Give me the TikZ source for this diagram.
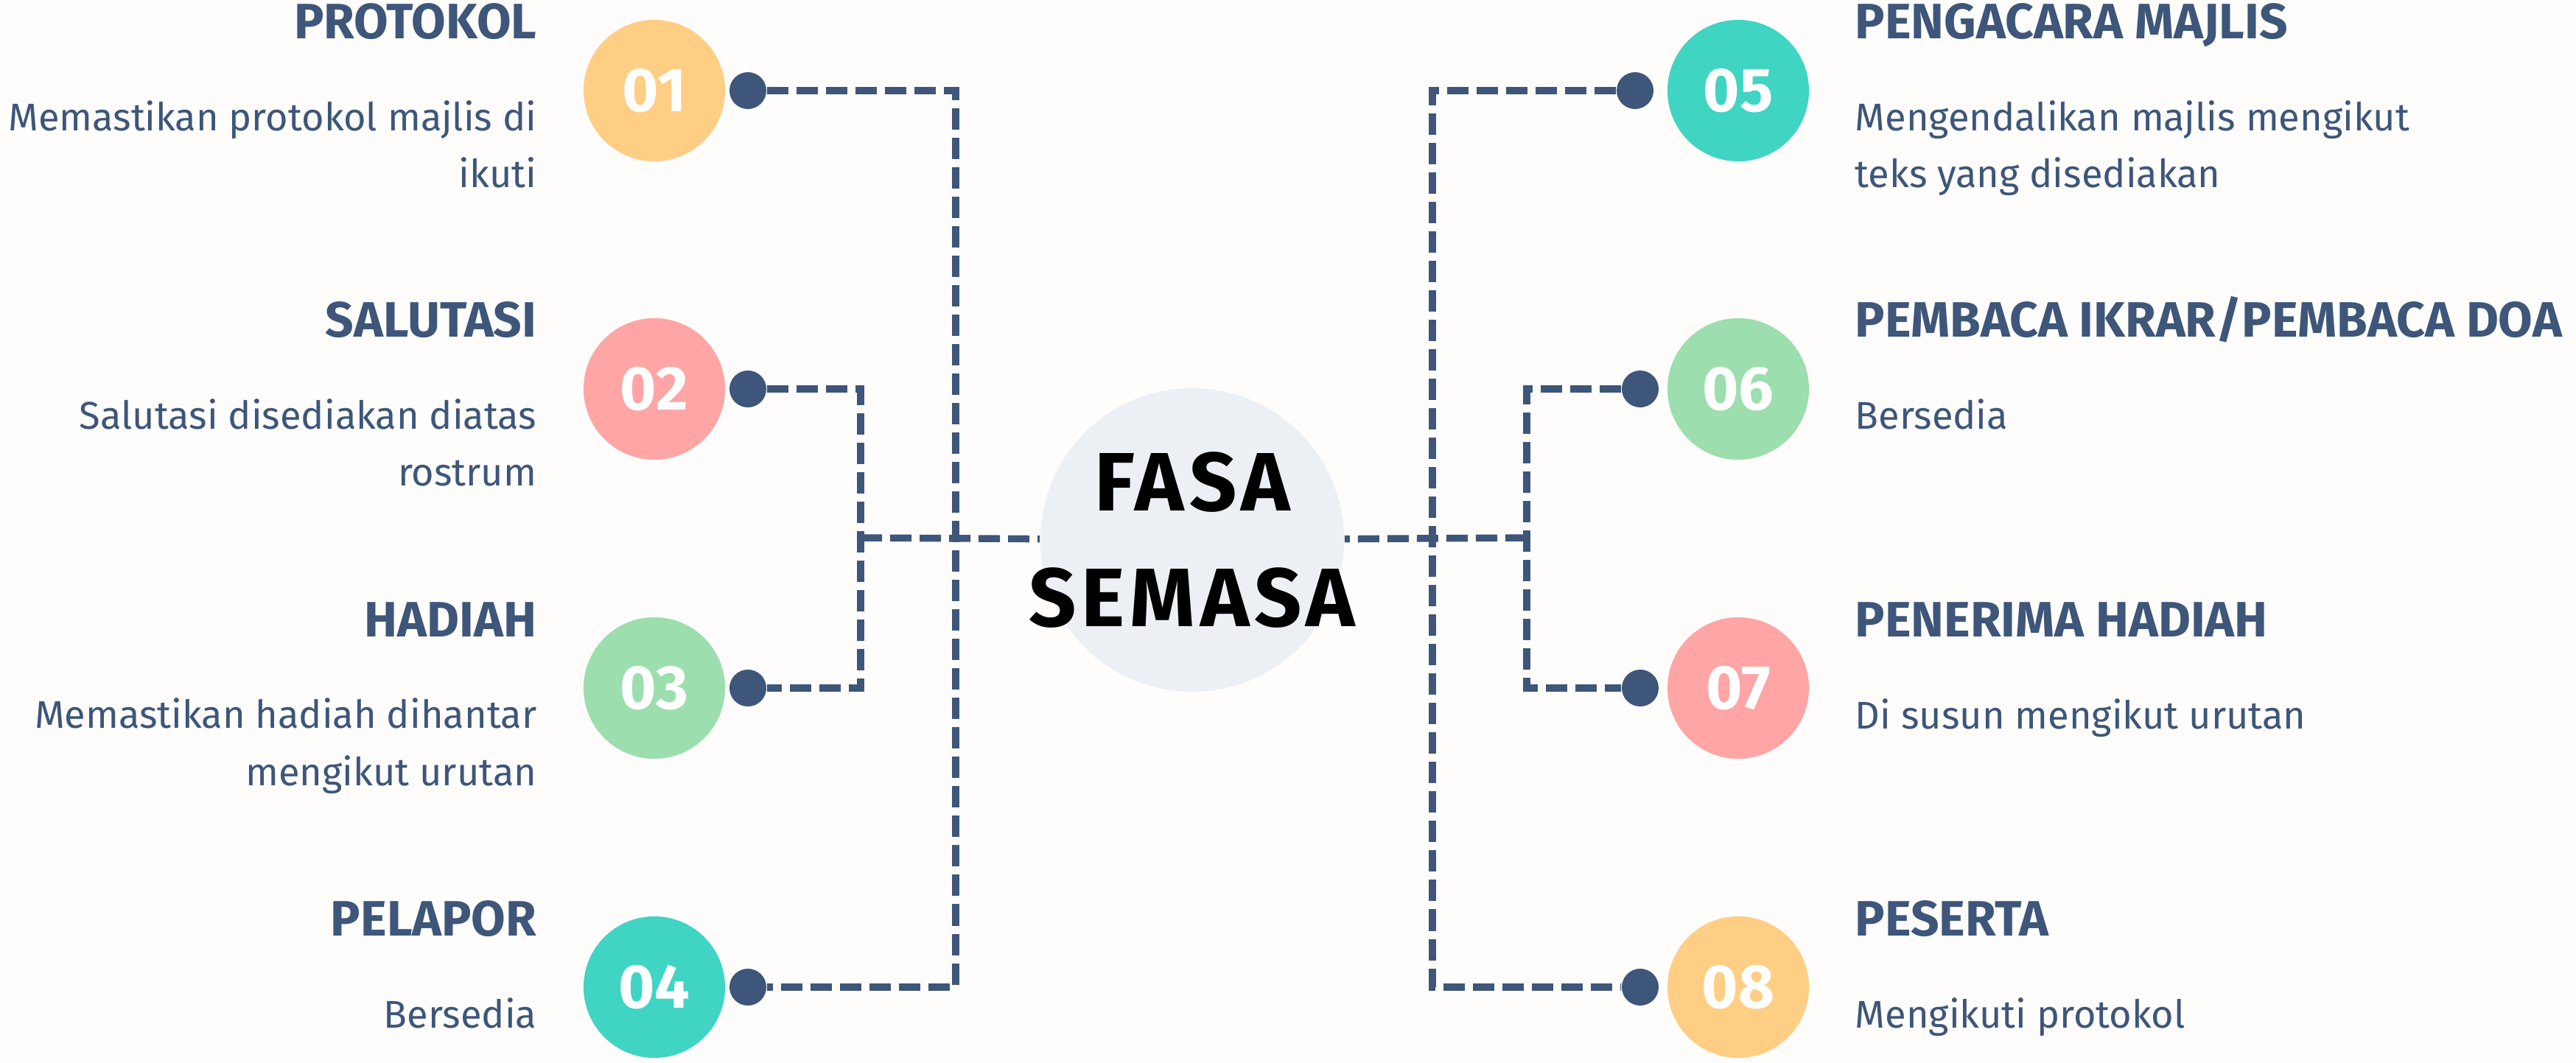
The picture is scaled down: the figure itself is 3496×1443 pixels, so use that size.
\documentclass[tikz,border=0pt]{standalone}
\usepackage{fontspec}
\setmainfont{Fira Sans}
\newfontfamily\phasefont[LetterSpace=6]{Fira Sans}
\usetikzlibrary{positioning,backgrounds}
\definecolor{inkblue}{HTML}{3D5679}
\definecolor{sunyellow}{HTML}{FFCE85}
\definecolor{softpink}{HTML}{FFA5A5}
\definecolor{mintgreen}{HTML}{9CDEAE}
\definecolor{seateal}{HTML}{40D4C3}
\definecolor{mistgrey}{HTML}{ECF0F4}
\definecolor{paper}{HTML}{FEFDFC}

\begin{document}
\begin{tikzpicture}[x=0.01cm, y=-0.01cm,
  numcirc/.style={circle, minimum size=1.92cm, inner sep=0pt, text=white,
    font=\fontsize{24}{28}\selectfont\bfseries},
  linkdot/.style={circle, fill=inkblue, minimum size=0.5cm, inner sep=0pt},
  headtext/.style={inner sep=0pt, text=inkblue,
    font=\fontsize{19.2}{22}\selectfont\bfseries},
  desctext/.style={inner sep=0pt, text=inkblue,
    font=\fontsize{14.9}{21.9}\selectfont},
  link/.style={draw=inkblue, line width=0.095cm, dash pattern=on 0.29cm off 0.11cm}]
\useasboundingbox (0,0) rectangle (3496,1443);

% spine points
\coordinate (lout) at (1297,730);
\coordinate (lin) at (1168,730);
\coordinate (rout) at (1944,730);
\coordinate (rin) at (2072,730);

% link dots
\node[linkdot] (d1) at (1015,123) {};
\node[linkdot] (d2) at (1015,528) {};
\node[linkdot] (d3) at (1015,934) {};
\node[linkdot] (d4) at (1015,1340) {};
\node[linkdot] (d5) at (2219,123) {};
\node[linkdot] (d6) at (2226,528) {};
\node[linkdot] (d7) at (2226,934) {};
\node[linkdot] (d8) at (2226,1340) {};

% centre
\node[circle, fill=mistgrey, minimum size=4.12cm, inner sep=0pt] (phase) at (1618,733) {};
\node[align=center, inner sep=0pt,
      font=\fontsize{32}{44.7}\selectfont\bfseries\phasefont] (phaselbl) at (phase.center)
      {FASA\\SEMASA};

% number circles
\node[numcirc, fill=sunyellow] (c1) at (888,123) {01};
\node[numcirc, fill=softpink] (c2) at (888,528) {02};
\node[numcirc, fill=mintgreen] (c3) at (888,934) {03};
\node[numcirc, fill=seateal] (c4) at (888,1340) {04};
\node[numcirc, fill=seateal] (c5) at (2359,123) {05};
\node[numcirc, fill=mintgreen] (c6) at (2359,528) {06};
\node[numcirc, fill=softpink] (c7) at (2359,934) {07};
\node[numcirc, fill=sunyellow] (c8) at (2359,1340) {08};

% left texts
\node[headtext, anchor=base east] (h1) at (729,53) {PROTOKOL};
\node[desctext, anchor=base east, align=right] (t1) at (729,255)
  {Memastikan protokol majlis di\\ikuti};
\node[headtext, anchor=base east] (h2) at (729,458) {SALUTASI};
\node[desctext, anchor=base east, align=right] (t2) at (729,660)
  {Salutasi disediakan diatas\\rostrum};
\node[headtext, anchor=base east] (h3) at (729,864) {HADIAH};
\node[desctext, anchor=base east, align=right] (t3) at (729,1066)
  {Memastikan hadiah dihantar\\mengikut urutan};
\node[headtext, anchor=base east] (h4) at (729,1270) {PELAPOR};
\node[desctext, anchor=base east] (t4) at (729,1395) {Bersedia};

% right texts
\node[headtext, anchor=base west] (h5) at (2517,53) {PENGACARA MAJLIS};
\node[desctext, anchor=base west, align=left] (t5) at (2517,255)
  {Mengendalikan majlis mengikut\\teks yang disediakan};
\node[headtext, anchor=base west] (h6) at (2517,458) {PEMBACA IKRAR/PEMBACA DOA};
\node[desctext, anchor=base west] (t6) at (2517,583) {Bersedia};
\node[headtext, anchor=base west] (h7) at (2517,864) {PENERIMA HADIAH};
\node[desctext, anchor=base west] (t7) at (2517,989) {Di susun mengikut urutan};
\node[headtext, anchor=base west] (h8) at (2517,1270) {PESERTA};
\node[desctext, anchor=base west] (t8) at (2517,1395) {Mengikuti protokol};

% connectors, behind everything
\begin{scope}[on background layer]
\fill[paper] (0,0) rectangle (3496,1443);
\draw[link] (d1) -| (lout) |- (d4);
\draw[link] (d2) -| (lin) |- (d3);
\draw[link] (lin) -- (phase);
\draw[link] (d5) -| (rout) |- (d8);
\draw[link] (d6) -| (rin) |- (d7);
\draw[link] (rin) -- (phase);
\end{scope}
\end{tikzpicture}
\end{document}
